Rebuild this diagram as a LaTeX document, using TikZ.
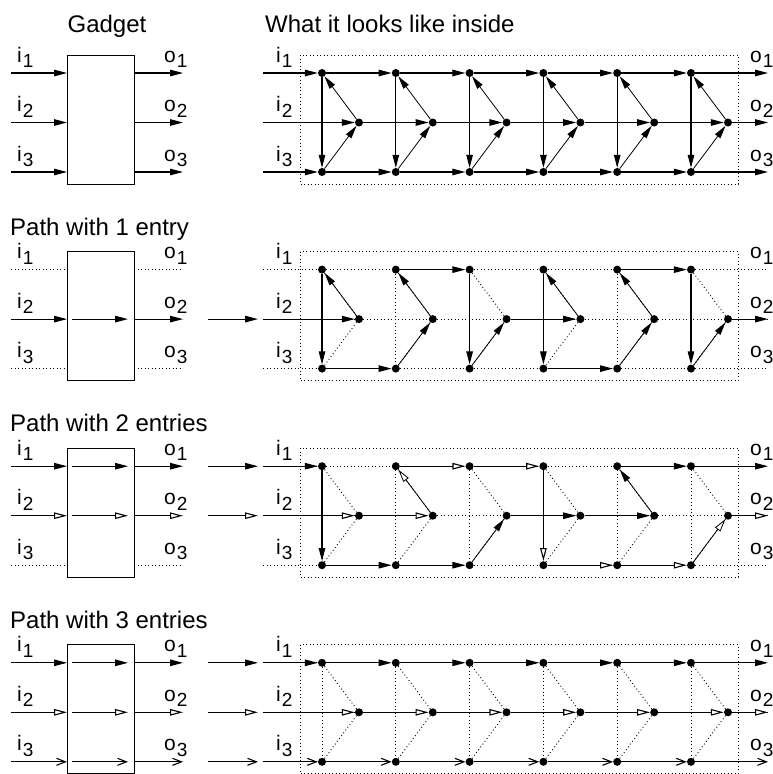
\documentclass[tikz,border=0pt]{standalone}
\usepackage{fontspec}
\setmainfont{Liberation Sans}
\usetikzlibrary{arrows.meta}

\newcommand{\lbl}[2]{\fontsize{21}{21}\selectfont #1\hspace{1pt}\raisebox{-5.5pt}{\fontsize{19}{19}\selectfont #2}}

\tikzset{
  wire/.style={line width=1.1pt},
  thinwire/.style={line width=0.8pt},
  fa/.style={-{Triangle[length=13pt,width=6.5pt]}},
  oa/.style={-{Triangle[length=13pt,width=6.5pt,fill=white]}},
  sa/.style={-{Straight Barb[length=9pt,width=7pt]}},
  dots/.style={line width=0.9pt, dash pattern=on 0.9pt off 2.6pt},
  dot/.style={circle, fill, inner sep=0pt, minimum size=8pt},
  title/.style={anchor=base west, font=\fontsize{24}{24}\selectfont, inner sep=0pt},
  lab/.style={anchor=base west, inner sep=0pt},
}

\begin{document}
\begin{tikzpicture}[x=1pt, y=-1pt]
\clip (0,0) rectangle (772,774);

\node[title, anchor=base] (gadget) at (107,32) {Gadget};
\node[title] (inside) at (265,32) {What it looks like inside};

% the four rows of pictures
\foreach \p in {1,...,4} {
  \pgfmathsetmacro{\ya}{73+196.6*(\p-1)}
  \pgfmathsetmacro{\yb}{\ya+49.5}
  \pgfmathsetmacro{\yc}{\ya+99}
  \draw[line width=1pt] (67,\ya-18) rectangle (134,\yc+12);
  \draw[dots] (300,\ya-18) rectangle (738,\yc+12);
  \foreach \k in {0,...,5} {
    \node[dot] (t\p-\k) at (322+73.8*\k,\ya) {};
    \node[dot] (m\p-\k) at (359+73.8*\k,\yb) {};
    \node[dot] (b\p-\k) at (322+73.8*\k,\yc) {};
  }
  \foreach \r/\y in {1/\ya,2/\yb,3/\yc} {
    \coordinate (li\p-\r) at (11,\y);
    \coordinate (bl\p-\r) at (67,\y);
    \coordinate (il\p-\r) at (72,\y);
    \coordinate (ir\p-\r) at (128,\y);
    \coordinate (br\p-\r) at (134,\y);
    \coordinate (lo\p-\r) at (183,\y);
    \coordinate (gs\p-\r) at (208,\y);
    \coordinate (ge\p-\r) at (258,\y);
    \coordinate (ri\p-\r) at (263,\y);
    \coordinate (ro\p-\r) at (768,\y);
    \node[lab] (labi\p-\r) at (17,\y-11) {\lbl{i}{\r}};
    \node[lab] (labo\p-\r) at (164,\y-11) {\lbl{o}{\r}};
    \node[lab] (labri\p-\r) at (276,\y-11) {\lbl{i}{\r}};
    \node[lab] (labro\p-\r) at (750,\y-11) {\lbl{o}{\r}};
  }
}

\node[title] (path1) at (10,235) {Path with 1 entry};
\node[title] (path2) at (10,431) {Path with 2 entries};
\node[title] (path3) at (10,628) {Path with 3 entries};

% whole gadget
\foreach \r/\n in {1/t,2/m,3/b} {
  \draw[wire,fa] (li1-\r) -- (bl1-\r);
  \draw[wire,fa] (br1-\r) -- (lo1-\r);
  \draw[wire,fa] (ri1-\r) -- (\n1-0);
  \foreach \k [evaluate=\k as \j using int(\k+1)] in {0,...,4}
    \draw[wire,fa] (\n1-\k) -- (\n1-\j);
  \draw[wire,fa] (\n1-5) -- (ro1-\r);
}
\foreach \k in {0,...,5} {
  \draw[wire,fa] (t1-\k) -- (b1-\k);
  \draw[thinwire,fa] (m1-\k) -- (t1-\k);
  \draw[thinwire,fa] (b1-\k) -- (m1-\k);
}

% unused wires
\foreach \p in {2,3,4} {
  \foreach \r/\n in {1/t,2/m,3/b} {
    \draw[dots] (li\p-\r) -- (bl\p-\r);
    \draw[dots] (br\p-\r) -- (lo\p-\r);
    \draw[dots] (ri\p-\r) -- (\n\p-0);
    \foreach \k [evaluate=\k as \j using int(\k+1)] in {0,...,4}
      \draw[dots] (\n\p-\k) -- (\n\p-\j);
    \draw[dots] (\n\p-5) -- (ro\p-\r);
  }
  \foreach \k in {0,...,5} {
    \draw[dots] (t\p-\k) -- (b\p-\k);
    \draw[dots] (m\p-\k) -- (t\p-\k);
    \draw[dots] (b\p-\k) -- (m\p-\k);
  }
}

% 1 entry
\draw[wire,fa] (li2-2) -- (bl2-2);
\draw[wire,fa] (il2-2) -- (ir2-2);
\draw[wire,fa] (br2-2) -- (lo2-2);
\draw[wire,fa] (gs2-2) -- (ge2-2);
\draw[wire,fa] (ri2-2) -- (m2-0);
\draw[thinwire,fa] (m2-0) -- (t2-0);
\draw[wire,fa] (t2-0) -- (b2-0);
\draw[wire,fa] (b2-0) -- (b2-1);
\draw[thinwire,fa] (b2-1) -- (m2-1);
\draw[thinwire,fa] (m2-1) -- (t2-1);
\draw[wire,fa] (t2-1) -- (t2-2);
\draw[wire,fa] (t2-2) -- (b2-2);
\draw[thinwire,fa] (b2-2) -- (m2-2);
\draw[wire,fa] (m2-2) -- (m2-3);
\draw[thinwire,fa] (m2-3) -- (t2-3);
\draw[wire,fa] (t2-3) -- (b2-3);
\draw[wire,fa] (b2-3) -- (b2-4);
\draw[thinwire,fa] (b2-4) -- (m2-4);
\draw[thinwire,fa] (m2-4) -- (t2-4);
\draw[wire,fa] (t2-4) -- (t2-5);
\draw[wire,fa] (t2-5) -- (b2-5);
\draw[thinwire,fa] (b2-5) -- (m2-5);
\draw[wire,fa] (m2-5) -- (ro2-2);

% 2 entries
\draw[wire,fa] (li3-1) -- (bl3-1);
\draw[wire,fa] (il3-1) -- (ir3-1);
\draw[wire,fa] (br3-1) -- (lo3-1);
\draw[wire,fa] (gs3-1) -- (ge3-1);
\draw[wire,fa] (ri3-1) -- (t3-0);
\draw[wire,fa] (t3-0) -- (b3-0);
\draw[wire,fa] (b3-0) -- (b3-1);
\draw[wire,fa] (b3-1) -- (b3-2);
\draw[thinwire,fa] (b3-2) -- (m3-2);
\draw[wire,fa] (m3-2) -- (m3-3);
\draw[wire,fa] (m3-3) -- (m3-4);
\draw[thinwire,fa] (m3-4) -- (t3-4);
\draw[wire,fa] (t3-4) -- (t3-5);
\draw[wire,fa] (t3-5) -- (ro3-1);
\draw[wire,oa] (li3-2) -- (bl3-2);
\draw[wire,oa] (il3-2) -- (ir3-2);
\draw[wire,oa] (br3-2) -- (lo3-2);
\draw[wire,oa] (gs3-2) -- (ge3-2);
\draw[wire,oa] (ri3-2) -- (m3-0);
\draw[wire,oa] (m3-0) -- (m3-1);
\draw[thinwire,oa] (m3-1) -- (t3-1);
\draw[wire,oa] (t3-1) -- (t3-2);
\draw[wire,oa] (t3-2) -- (t3-3);
\draw[wire,oa] (t3-3) -- (b3-3);
\draw[wire,oa] (b3-3) -- (b3-4);
\draw[wire,oa] (b3-4) -- (b3-5);
\draw[thinwire,oa] (b3-5) -- (m3-5);
\draw[wire,oa] (m3-5) -- (ro3-2);

% 3 entries
\foreach \r/\n/\tip in {1/t/fa,2/m/oa,3/b/sa} {
  \draw[wire,\tip] (li4-\r) -- (bl4-\r);
  \draw[wire,\tip] (il4-\r) -- (ir4-\r);
  \draw[wire,\tip] (br4-\r) -- (lo4-\r);
  \draw[wire,\tip] (gs4-\r) -- (ge4-\r);
  \draw[wire,\tip] (ri4-\r) -- (\n4-0);
  \foreach \k [evaluate=\k as \j using int(\k+1)] in {0,...,4}
    \draw[wire,\tip] (\n4-\k) -- (\n4-\j);
  \draw[wire,\tip] (\n4-5) -- (ro4-\r);
}
\end{tikzpicture}
\end{document}
